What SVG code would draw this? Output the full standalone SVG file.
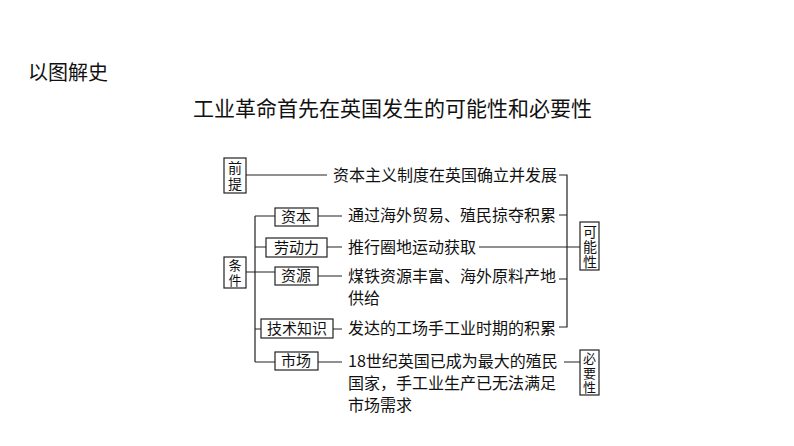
<svg xmlns="http://www.w3.org/2000/svg" width="794" height="446" viewBox="0 0 794 446">
<style>
text{font-family:"Noto Sans CJK SC","Noto Sans",sans-serif;fill:#111}
.t{font-size:16px}
.s{font-size:15px}
.v{font-size:14px}
.w{font-size:13px}
.b{fill:#fff;stroke:#222;stroke-width:1.2}
.l{stroke:#222;stroke-width:1.2;fill:none}
</style>
<rect width="794" height="446" fill="#fff"/>
<text x="28" y="80" font-size="20">以图解史</text>
<text x="193" y="116" font-size="21">工业革命首先在英国发生的可能性和必要性</text>
<g id="connectors" class="l">
<path d="M246 175H327M559 175H567V327H559M559 215H567M559 279H567M479 247H580M564 362H580"/>
<path d="M246 272H255M255 216V362M255 216H275M255 247H266M255 272H275M255 329H261M255 362H275"/>
<path d="M318 216H342M327 247H342M318 276H342M333 329H342M318 362H342"/>
</g>
<g id="qianti"><rect class="b" x="224" y="158" width="22" height="35"/><text class="v" x="228" y="173">前</text><text class="v" x="228" y="189">提</text></g>
<g id="tiaojian"><rect class="b" x="224" y="257" width="22" height="31"/><text class="w" x="228.5" y="270">条</text><text class="w" x="228.5" y="284.5">件</text></g>
<g id="ziben"><rect class="b" x="275" y="208" width="43" height="18"/><text class="s" x="281" y="222">资本</text></g>
<g id="laodongli"><rect class="b" x="266" y="238" width="61" height="19"/><text class="s" x="274" y="253">劳动力</text></g>
<g id="ziyuan"><rect class="b" x="275" y="267" width="43" height="18"/><text class="s" x="281" y="281">资源</text></g>
<g id="jishu"><rect class="b" x="261" y="319" width="72" height="19"/><text class="s" x="267" y="334">技术知识</text></g>
<g id="shichang"><rect class="b" x="275" y="352" width="43" height="18"/><text class="s" x="281" y="366">市场</text></g>
<g id="keneng"><rect class="b" x="580" y="222" width="19" height="48"/><text class="v" x="583" y="237">可</text><text class="v" x="583" y="252">能</text><text class="v" x="583" y="267">性</text></g>
<g id="biyao"><rect class="b" x="580" y="350" width="19" height="45"/><text class="w" x="583" y="363">必</text><text class="w" x="583" y="377.5">要</text><text class="w" x="583" y="392">性</text></g>
<g id="texts">
<text class="t" x="333" y="181">资本主义制度在英国确立并发展</text>
<text class="t" x="348" y="221">通过海外贸易、殖民掠夺积累</text>
<text class="t" x="348" y="253">推行圈地运动获取</text>
<text class="t" x="348" y="282">煤铁资源丰富、海外原料产地</text>
<text class="t" x="348" y="304">供给</text>
<text class="t" x="348" y="334">发达的工场手工业时期的积累</text>
<text class="t" x="348" y="367">18世纪英国已成为最大的殖民</text>
<text class="t" x="348" y="389">国家，手工业生产已无法满足</text>
<text class="t" x="348" y="411">市场需求</text>
</g>
</svg>
